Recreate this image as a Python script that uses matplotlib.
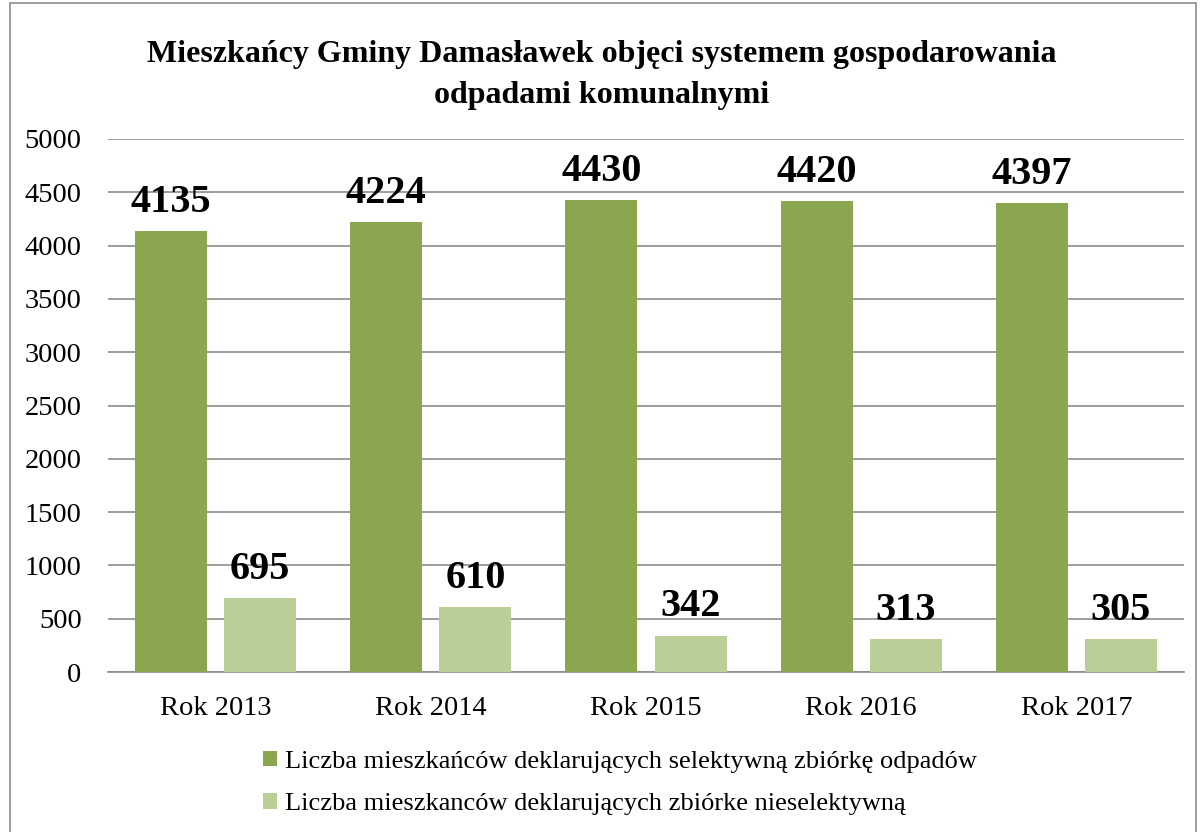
import matplotlib.pyplot as plt
import numpy as np
from matplotlib.patches import Rectangle

years = ["Rok 2013", "Rok 2014", "Rok 2015", "Rok 2016", "Rok 2017"]
selektywna = [4135, 4224, 4430, 4420, 4397]
nieselektywna = [695, 610, 342, 313, 305]
labels = ["Liczba mieszkańców deklarujących selektywną zbiórkę odpadów",
          "Liczba mieszkanców deklarujących zbiórke nieselektywną"]

dark = "#8AA64E"
light = "#BACE98"

plt.rcParams['font.family'] = ['Liberation Serif', 'DejaVu Serif']

W, H = 1203, 832
fig = plt.figure(figsize=(W / 100, H / 100), dpi=100)
ax = fig.add_axes([108 / W, 1 - 672 / H, (1184 - 108) / W, (672 - 139) / H])

x = np.arange(len(years))
w = 0.335
off = 0.207
b1 = ax.bar(x - off, selektywna, w, color=dark, label=labels[0], zorder=3)
b2 = ax.bar(x + off, nieselektywna, w, color=light, label=labels[1], zorder=3)

for bars in (b1, b2):
    for r in bars:
        ax.text(r.get_x() + r.get_width() / 2, r.get_height() + 95, str(int(r.get_height())),
                ha='center', va='bottom', fontsize=29, fontweight='bold', zorder=4)

ax.set_xlim(-0.5, len(years) - 0.5)
ax.set_ylim(0, 5000)
ax.set_yticks(range(0, 5001, 500))
ax.yaxis.grid(True, color='#8c8c8c', linewidth=1.2, zorder=0)
ax.set_axisbelow(True)
ax.set_xticks(x)
ax.set_xticklabels(years)
ax.tick_params(axis='both', length=0, labelsize=20.5)
ax.tick_params(axis='x', pad=17)
ax.tick_params(axis='y', pad=19)
for s in ('top', 'right', 'left'):
    ax.spines[s].set_visible(False)
ax.spines['bottom'].set_color('#8c8c8c')
ax.spines['bottom'].set_linewidth(1.2)

fig.text(0.5, 1 - 75 / H, "Mieszkańcy Gminy Damasławek objęci systemem gospodarowania\nodpadami komunalnymi",
         ha='center', va='center', fontsize=23, fontweight='bold', linespacing=1.55)

fig.legend(loc='upper left', bbox_to_anchor=(252 / W, 1 - 740 / H), frameon=False,
           fontsize=19, handlelength=0.55, handleheight=0.55, handletextpad=0.3,
           labelspacing=0.75, borderaxespad=0)

fig.patches.append(Rectangle((10 / W, -0.01), (1196 - 10) / W, 1 - 3 / H + 0.01,
                             transform=fig.transFigure, fill=False, edgecolor='#8c8c8c', linewidth=1.2))

fig.savefig("out.png", dpi=100)
